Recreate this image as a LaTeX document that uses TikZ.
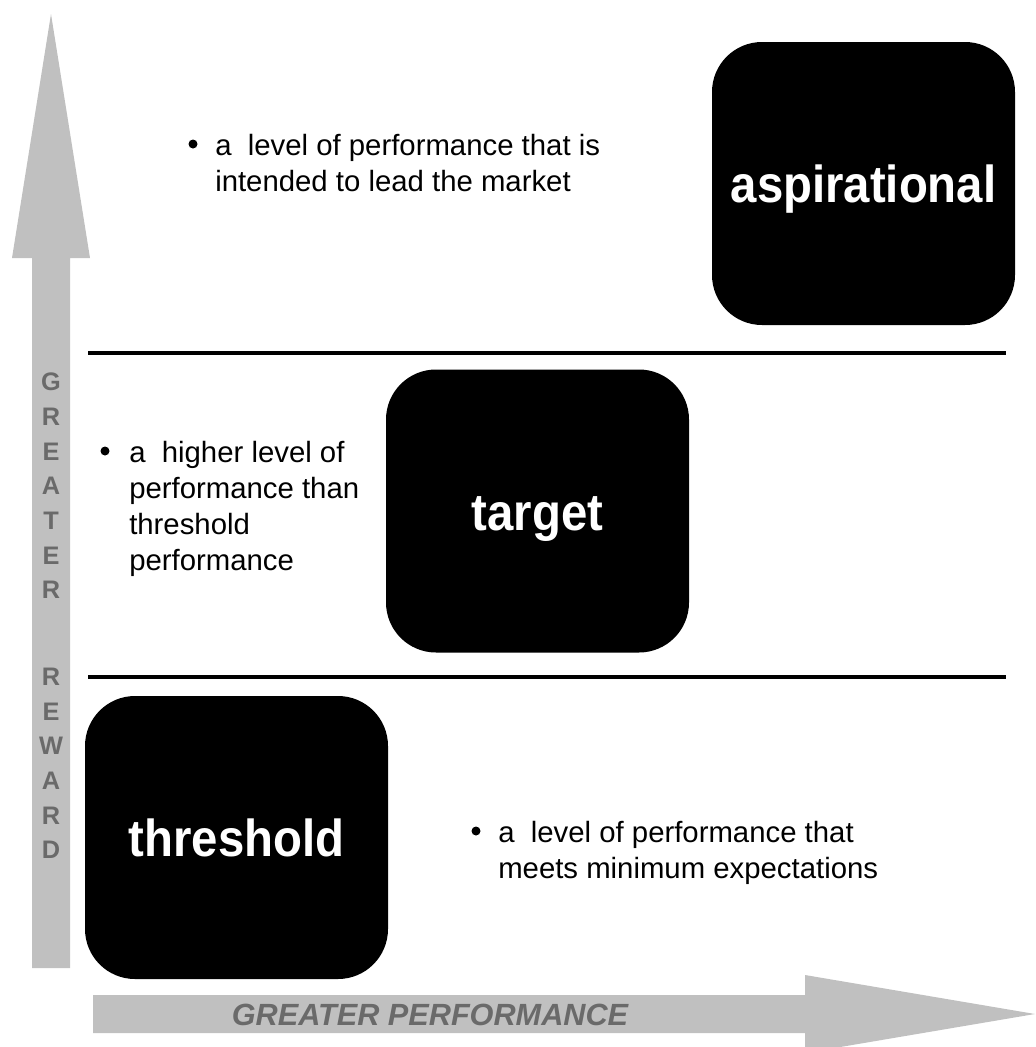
\documentclass[tikz,border=0pt]{standalone}
\usepackage{fontspec}
\setmainfont{Liberation Sans}
\usepackage{graphicx}
\definecolor{arrowgray}{HTML}{C0C0C0}
\definecolor{axistext}{HTML}{6A6A6A}
\begin{document}
\begin{tikzpicture}[x=0.75pt,y=-0.75pt,
  levelbox/.style={fill=black, rounded corners=37.5pt, minimum width=227.25pt,
    minimum height=212.25pt, inner sep=0pt, text=white,
    font=\fontsize{39}{39}\selectfont\bfseries, text height=28.5pt, text depth=0pt},
  desc/.style={align=left, anchor=north west, inner sep=0pt,
    font=\fontsize{22}{27}\selectfont},
  dot/.style={circle, fill=black, inner sep=0pt, minimum size=6.75pt},
  sepline/.style={line width=3pt, black},
  axisarrow/.style={fill=arrowgray},
  axislbl/.style={text=axistext, inner sep=0pt}
]
\useasboundingbox (0,0) rectangle (1036,1047);
\clip (0,0) rectangle (1036,1047);

% axis arrows
\fill[axisarrow] (32,968) -- (32,258) -- (12,258) -- (51,14) -- (90,258)
  -- (70,258) -- (70,968) -- cycle;
\fill[axisarrow] (93,995) -- (805,995) -- (805,975) -- (1035,1014)
  -- (805,1053) -- (805,1033) -- (93,1033) -- cycle;

% axis labels
\node[axislbl, anchor=north, align=center,
  font=\fontsize{19}{26}\selectfont\bfseries] (reward) at (51,373)
  {G\\R\\E\\A\\T\\E\\R\\[39pt]R\\E\\W\\A\\R\\D};
\node[axislbl, anchor=base,
  font=\fontsize{23}{23}\selectfont\bfseries\itshape] (perf) at (430,1025)
  {GREATER PERFORMANCE};

% separator lines
\coordinate (l1a) at (88,353);
\coordinate (l1b) at (1006,353);
\coordinate (l2a) at (88,677);
\coordinate (l2b) at (1006,677);
\draw[sepline] (l1a) -- (l1b);
\draw[sepline] (l2a) -- (l2b);

% level boxes
\node[levelbox] (asp) at (863.5,183.5) {\scalebox{0.91}[1]{aspirational}};
\node[levelbox] (tgt) at (537.5,511) {\scalebox{0.91}[1]{target}};
\node[levelbox] (thr) at (236.5,837.5) {\scalebox{0.91}[1]{threshold}};

% descriptions
\node[dot] (b1) at (193,144) {};
\node[desc] (d1) at (215,133.6) {a~~level of performance that is\\intended to lead the market};
\node[dot] (b2) at (105,451) {};
\node[desc] (d2) at (129,440.6) {a~~higher level of\\performance than\\threshold\\performance};
\node[dot] (b3) at (476,831) {};
\node[desc] (d3) at (498,820.6) {a~~level of performance that\\meets minimum expectations};
\end{tikzpicture}
\end{document}
